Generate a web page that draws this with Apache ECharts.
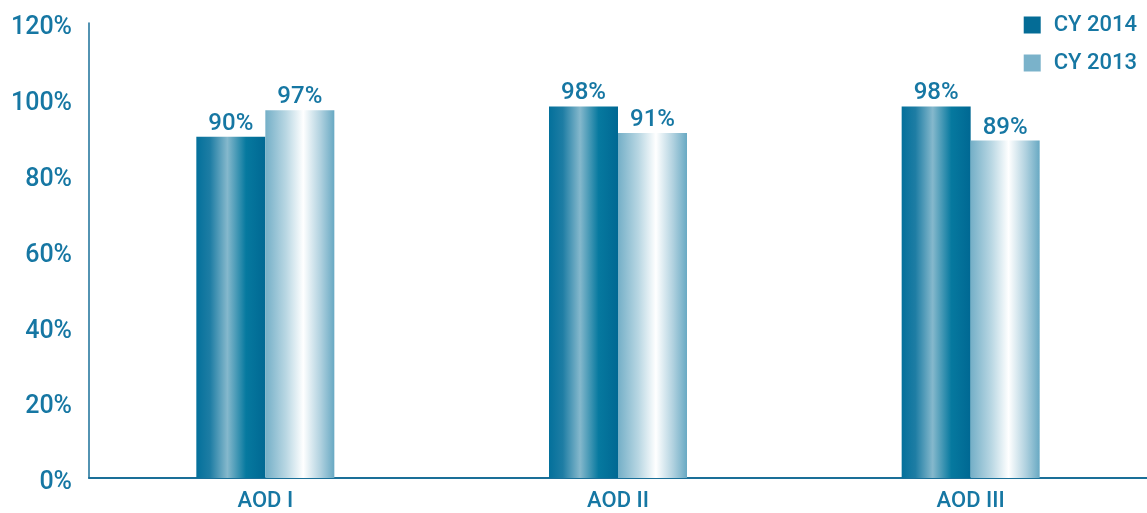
<!DOCTYPE html>
<html lang="en">
<head>
    <meta charset="UTF-8">
    <title>AOD</title>
    <script src="https://cdn.jsdelivr.net/npm/echarts@6/dist/echarts.min.js"></script>
    <style>
        html, body { margin: 0; padding: 0; background: #fff; }
        #main { width: 1147px; height: 513px; }
    </style>
</head>
<body>
<div id="main"></div>
<script>
    var categories = ['AOD I', 'AOD II', 'AOD III'];
    var cy2014 = [90, 98, 98];
    var cy2013 = [97, 91, 89];
    var yMin = 0, yMax = 120, yStep = 20;

    var textColor = '#1677a3';
    var axisColor = '#1a6f98';

    // gradients across the width of each bar
    var darkBar = new echarts.graphic.LinearGradient(0, 0, 1, 0, [
        {offset: 0, color: '#03709b'},
        {offset: 0.2, color: '#1e7da4'},
        {offset: 0.45, color: '#85b8cc'},
        {offset: 0.72, color: '#06799f'},
        {offset: 1, color: '#006893'}
    ]);
    var lightBar = new echarts.graphic.LinearGradient(0, 0, 1, 0, [
        {offset: 0, color: '#74afc7'},
        {offset: 0.3, color: '#b9d7e3'},
        {offset: 0.55, color: '#ffffff'},
        {offset: 0.8, color: '#b0d1df'},
        {offset: 1, color: '#68a9c3'}
    ]);

    var myChart = echarts.init(document.getElementById('main'));
    myChart.setOption({
        animation: false,
        textStyle: {fontFamily: 'Roboto', fontWeight: 500},
        grid: {left: 89, right: 0, top: 23, bottom: 35, containLabel: false},
        legend: {
            orient: 'vertical',
            right: 5,
            top: 9,
            itemWidth: 17,
            itemHeight: 17,
            itemGap: 16,
            icon: 'rect',
            textStyle: {color: textColor, fontSize: 22, fontFamily: 'Roboto', fontWeight: 500, padding: [0, 0, 0, 8]},
            data: [
                {name: 'CY 2014', itemStyle: {color: '#046c96'}},
                {name: 'CY 2013', itemStyle: {color: '#7ab2ca'}}
            ]
        },
        xAxis: {
            type: 'category',
            data: categories,
            axisLine: {lineStyle: {color: axisColor, width: 2}},
            axisTick: {inside: true, length: 10, lineStyle: {color: axisColor, width: 2}},
            axisLabel: {color: textColor, fontSize: 22, fontWeight: 500, margin: 12}
        },
        yAxis: {
            type: 'value',
            min: yMin,
            max: yMax,
            interval: yStep,
            axisLine: {show: true, lineStyle: {color: axisColor, width: 1.5}},
            axisTick: {show: false},
            splitLine: {show: false},
            axisLabel: {
                formatter: '{a|{value}%}', margin: 17,
                rich: {a: {color: textColor, fontSize: 25, fontWeight: 500, fontFamily: 'Roboto', padding: [10, 0, 0, 0]}}
            }
        },
        series: [
            {
                name: 'CY 2014',
                type: 'bar',
                barWidth: 69,
                barGap: 0,
                data: cy2014,
                itemStyle: {color: darkBar},
                label: {show: true, position: 'top', distance: 1, formatter: '{c}%', color: textColor, fontSize: 24, fontWeight: 500}
            },
            {
                name: 'CY 2013',
                type: 'bar',
                barWidth: 69,
                barGap: 0,
                data: cy2013,
                itemStyle: {color: lightBar},
                label: {show: true, position: 'top', distance: 1, formatter: '{c}%', color: textColor, fontSize: 24, fontWeight: 500}
            }
        ]
    });
</script>
</body>
</html>
